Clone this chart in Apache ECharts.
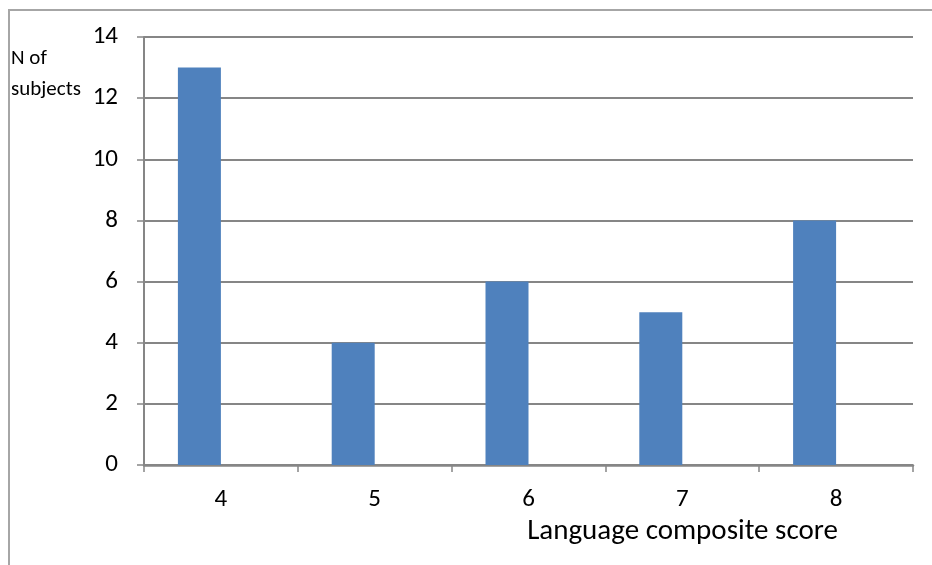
<!DOCTYPE html>
<html>
<head>
<meta charset="utf-8">
<script src="https://cdn.jsdelivr.net/npm/echarts@6/dist/echarts.min.js"></script>
<style>
  html, body { margin: 0; padding: 0; background: #fff; }
  #chart { width: 932px; height: 565px; }
</style>
</head>
<body>
<div id="chart"></div>
<script>
// Distribution of subjects by language composite score
const scores = ['4', '5', '6', '7', '8'];
const subjectCounts = [13, 4, 6, 5, 8];
const yTicks = [0, 2, 4, 6, 8, 10, 12, 14];

const chart = echarts.init(document.getElementById('chart'), null, { renderer: 'canvas' });
const font = 'Carlito, "Open Sans", "Noto Sans", sans-serif';

chart.setOption({
  animation: false,
  backgroundColor: '#ffffff',
  graphic: [
    // outer chart frame (top and left edges visible)
    { type: 'line', shape: { x1: 8, y1: 10, x2: 932, y2: 10 }, style: { stroke: '#a6a6a6', lineWidth: 2 } },
    { type: 'line', shape: { x1: 9, y1: 10, x2: 9, y2: 565 }, style: { stroke: '#a6a6a6', lineWidth: 2 } },
    { type: 'text', left: 11, top: 43, style: { text: 'N of\nsubjects', font: '21px ' + font, fill: '#000', lineHeight: 31 } }
  ],
  grid: { left: 144, right: 19, top: 37, bottom: 100, containLabel: false },
  xAxis: {
    type: 'category',
    data: scores,
    boundaryGap: true,
    name: 'Language composite score',
    nameLocation: 'middle',
    nameGap: 52,
    nameTextStyle: { fontSize: 29, color: '#000', fontFamily: font, padding: [0, 0, 0, 308] },
    axisLine: { lineStyle: { color: '#868686', width: 2.5 } },
    axisTick: { show: true, alignWithLabel: false, length: 7, lineStyle: { color: '#868686', width: 1.5 } },
    axisLabel: { fontSize: 25, color: '#000', fontFamily: font, margin: 22 }
  },
  yAxis: {
    type: 'value',
    min: yTicks[0],
    max: yTicks[yTicks.length - 1],
    interval: 2,
    axisLine: { show: true, lineStyle: { color: '#868686', width: 2 } },
    axisTick: { show: true, length: 7, lineStyle: { color: '#868686', width: 1.5 } },
    axisLabel: { fontSize: 25, color: '#000', fontFamily: font, margin: 26 },
    splitLine: { show: true, lineStyle: { color: '#868686', width: 2 } }
  },
  series: [
    {
      type: 'bar',
      data: subjectCounts,
      barWidth: 43,
      barGap: '0%',
      itemStyle: { color: '#4f81bd' }
    },
    {
      // empty companion series keeps the bars to the left of each category centre
      type: 'bar',
      data: scores.map(() => null),
      barWidth: 43,
      barGap: '0%',
      itemStyle: { color: '#c0504d' }
    }
  ]
});
</script>
</body>
</html>
